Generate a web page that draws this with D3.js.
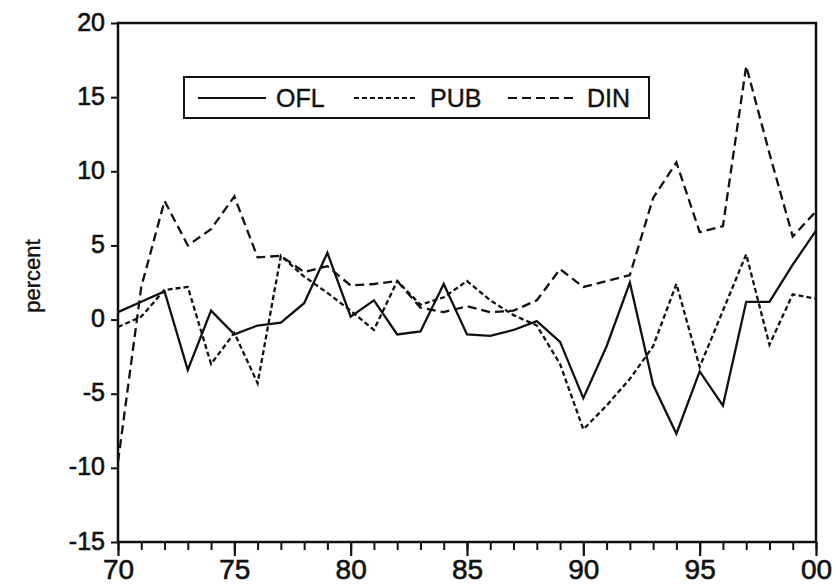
<!DOCTYPE html>
<html>
<head>
  <meta charset="utf-8">
  <title>OFL, PUB, DIN</title>
  <style>
    body { margin: 0; background: #fff; }
    text { font-family: "Liberation Sans", Arial, sans-serif; fill: #111; }
    .frame { fill: none; stroke: #111; stroke-width: 2.5px; }
    .series { fill: none; stroke: #111; stroke-width: 2.3px; stroke-linejoin: miter; }
  </style>
</head>
<body>
  <script src="https://d3js.org/d3.v7.min.js"></script>
  <svg width="835" height="588"></svg>
  <script>
    // years 1970 - 2000
    var years = [1970, 1971, 1972, 1973, 1974, 1975, 1976, 1977, 1978, 1979,
                 1980, 1981, 1982, 1983, 1984, 1985, 1986, 1987, 1988, 1989,
                 1990, 1991, 1992, 1993, 1994, 1995, 1996, 1997, 1998, 1999, 2000];

    var ofl = [0.5, 1.2, 1.9, -3.4, 0.6, -1.0, -0.4, -0.2, 1.1, 4.5,
               0.2, 1.3, -1.0, -0.8, 2.4, -1.0, -1.1, -0.7, -0.1, -1.5,
               -5.3, -1.8, 2.5, -4.4, -7.7, -3.5, -5.8, 1.2, 1.2, 3.7, 6.0];

    var pub = [-0.5, 0.2, 2.0, 2.2, -3.0, -0.9, -4.3, 4.3, 2.9, 1.8,
               0.6, -0.7, 2.6, 1.0, 1.5, 2.6, 1.3, 0.3, -0.4, -3.0,
               -7.4, -5.8, -4.0, -1.8, 2.4, -3.2, 0.6, 4.4, -1.7, 1.7, 1.4];

    var din = [-9.6, 2.2, 8.0, 5.0, 6.1, 8.3, 4.2, 4.3, 3.2, 3.6,
               2.3, 2.4, 2.6, 0.8, 0.5, 0.9, 0.5, 0.6, 1.3, 3.4,
               2.2, 2.6, 3.0, 8.2, 10.6, 5.9, 6.3, 17.1, 11.2, 5.6, 7.3];

    var yTicks = [-15, -10, -5, 0, 5, 10, 15, 20];
    var xLabelYears = [1970, 1975, 1980, 1985, 1990, 1995, 2000];
    var xLabels = ["70", "75", "80", "85", "90", "95", "00"];

    var series = [
      { name: "OFL", values: ofl, dash: null },
      { name: "PUB", values: pub, dash: "5,3" },
      { name: "DIN", values: din, dash: "9,5" }
    ];

    var svg = d3.select("svg");
    var plotLeft = 118, plotRight = 816, plotTop = 23, plotBottom = 542;

    var x = d3.scaleLinear().domain([1970, 2000]).range([plotLeft, plotRight]);
    var y = d3.scaleLinear().domain([-15, 20]).range([plotBottom, plotTop]);

    // y axis ticks + labels (plain hyphen for minus, like the original)
    var yAxis = d3.axisLeft(y)
        .tickValues(yTicks)
        .tickSize(7)
        .tickPadding(6)
        .tickFormat(function(d) { return String(d); });
    var gy = svg.append("g")
        .attr("transform", "translate(" + plotLeft + ",0)")
        .call(yAxis);
    gy.select(".domain").remove();
    gy.selectAll("line").attr("stroke", "#111").attr("stroke-width", 2);
    gy.selectAll("text")
        .attr("font-size", 25)
        .attr("dy", "0.28em")
        .attr("fill", "#111")
        .attr("stroke", "#111")
        .attr("stroke-width", 0.6)
        .style("font-family", "'Liberation Sans', Arial, sans-serif");

    // x axis: minor ticks every year, longer ticks every 5 years
    var xAxisMinor = d3.axisBottom(x)
        .tickValues(years)
        .tickSize(8)
        .tickFormat("");
    var gxm = svg.append("g")
        .attr("transform", "translate(0," + plotBottom + ")")
        .call(xAxisMinor);
    gxm.select(".domain").remove();
    gxm.selectAll("line").attr("stroke", "#111").attr("stroke-width", 2);

    var xAxis = d3.axisBottom(x)
        .tickValues(xLabelYears)
        .tickSize(14)
        .tickPadding(3)
        .tickFormat(function(d, i) { return xLabels[i]; });
    var gx = svg.append("g")
        .attr("transform", "translate(0," + plotBottom + ")")
        .call(xAxis);
    gx.select(".domain").remove();
    gx.selectAll("line").attr("stroke", "#111").attr("stroke-width", 2.2);
    gx.selectAll("text")
        .attr("font-size", 28)
        .attr("fill", "#111")
        .attr("stroke", "#111")
        .attr("stroke-width", 0.6)
        .style("font-family", "'Liberation Sans', Arial, sans-serif");

    // y axis title
    svg.append("text")
        .attr("transform", "translate(40,276) rotate(-90)")
        .attr("text-anchor", "middle")
        .attr("font-size", 22)
        .attr("stroke", "#111")
        .attr("stroke-width", 0.4)
        .text("percent");

    // lines
    var line = d3.line()
        .x(function(d, i) { return x(years[i]); })
        .y(function(d) { return y(d); });

    svg.selectAll(".series")
        .data(series)
        .enter()
        .append("path")
        .attr("class", "series")
        .attr("stroke-dasharray", function(d) { return d.dash; })
        .attr("d", function(d) { return line(d.values); });

    // plot frame
    svg.append("rect")
        .attr("class", "frame")
        .attr("x", plotLeft)
        .attr("y", plotTop)
        .attr("width", plotRight - plotLeft)
        .attr("height", plotBottom - plotTop);

    // legend
    var legend = svg.append("g");
    legend.append("rect")
        .attr("x", 184).attr("y", 77)
        .attr("width", 465).attr("height", 41)
        .attr("fill", "#fff")
        .attr("stroke", "#111")
        .attr("stroke-width", 2);

    var legendPos = [
      { x1: 198, x2: 266, tx: 276 },
      { x1: 354, x2: 418, tx: 430 },
      { x1: 508, x2: 578, tx: 587 }
    ];

    var item = legend.selectAll(".item")
        .data(series)
        .enter()
        .append("g")
        .attr("class", "item");

    item.append("line")
        .attr("x1", function(d, i) { return legendPos[i].x1; })
        .attr("x2", function(d, i) { return legendPos[i].x2; })
        .attr("y1", 98).attr("y2", 98)
        .attr("stroke", "#111")
        .attr("stroke-width", 2)
        .attr("stroke-dasharray", function(d) { return d.dash; });

    item.append("text")
        .attr("x", function(d, i) { return legendPos[i].tx; })
        .attr("y", 107)
        .attr("font-size", 25)
        .attr("stroke", "#111")
        .attr("stroke-width", 0.4)
        .text(function(d) { return d.name; });
  </script>
</body>
</html>
